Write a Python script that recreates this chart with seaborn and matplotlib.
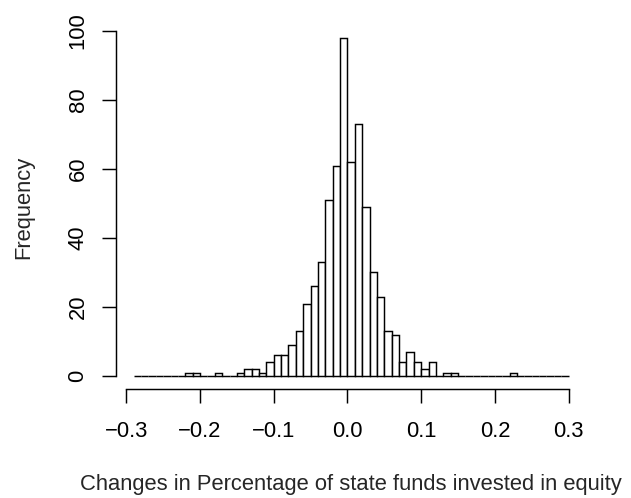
import numpy as np
import pandas as pd
import matplotlib
matplotlib.use("Agg")
import matplotlib.pyplot as plt
import seaborn as sns

# Histogram bins: left edges from -0.29 to 0.29 in steps of 0.01
bin_left = [round(-0.29 + 0.01 * i, 2) for i in range(59)]
counts = [
    0, 0, 0, 0, 0, 0, 0,        # -0.29 .. -0.23
    1, 1, 0, 0, 1, 0, 0,        # -0.22 .. -0.16
    1, 2, 2, 1, 4, 6, 6, 9,     # -0.15 .. -0.08
    13, 21, 26, 33, 51, 61, 98, # -0.07 .. -0.01
    62, 73, 49, 30, 23, 13, 12, # 0.00 .. 0.06
    4, 7, 4, 2, 4, 0, 1, 1,     # 0.07 .. 0.14
    0, 0, 0, 0, 0, 0, 0, 1,     # 0.15 .. 0.22
    0, 0, 0, 0, 0, 0, 0,        # 0.23 .. 0.29
]
x_ticks = [-0.3, -0.2, -0.1, 0.0, 0.1, 0.2, 0.3]
x_tick_labels = ["\u22120.3", "\u22120.2", "\u22120.1", "0.0", "0.1", "0.2", "0.3"]
y_ticks = [0, 20, 40, 60, 80, 100]

df = pd.DataFrame({"change": np.array(bin_left) + 0.005, "n": counts})
edges = [round(-0.29 + 0.01 * i, 2) for i in range(60)]

sns.set_style("ticks")
plt.rcParams["font.family"] = ["Liberation Sans", "DejaVu Sans"]

FS = 15.8
LW = 1.05

fig = plt.figure(figsize=(6.31, 4.98), dpi=100)
ax = fig.add_axes([0.1843, 0.2179, 0.9287 - 0.1843, 0.951 - 0.2179])

sns.histplot(data=df, x="change", weights="n", bins=edges, ax=ax,
             color="white", edgecolor="black", linewidth=LW, alpha=1)

xlo, xhi = -0.29, 0.30
pad_x = 0.04 * (xhi - xlo)
ax.set_xlim(xlo - pad_x, xhi + pad_x)
ymax = max(counts)
ax.set_ylim(-0.04 * ymax, ymax * 1.04)

ax.set_xticks(x_ticks)
ax.set_xticklabels(x_tick_labels)
ax.set_yticks(y_ticks)
ax.set_yticklabels([str(v) for v in y_ticks], rotation=90, va="center")

for s in ["top", "right"]:
    ax.spines[s].set_visible(False)
ax.spines["bottom"].set_bounds(-0.3, 0.3)
ax.spines["left"].set_bounds(0, 100)
for s in ["bottom", "left"]:
    ax.spines[s].set_linewidth(LW)
    ax.spines[s].set_color("black")

ax.tick_params(axis="both", length=10, width=LW, color="black",
               labelsize=FS, labelcolor="black")
ax.tick_params(axis="x", pad=13)
ax.tick_params(axis="y", pad=10)

ax.set_xlabel("Changes in Percentage of state funds invested in equity",
              fontsize=FS)
ax.set_ylabel("Frequency", fontsize=FS)
ax.xaxis.set_label_coords(0.5, -0.2314)
ax.yaxis.set_label_coords(-0.175, 0.5)

fig.savefig("out.png", dpi=100, facecolor="white")
